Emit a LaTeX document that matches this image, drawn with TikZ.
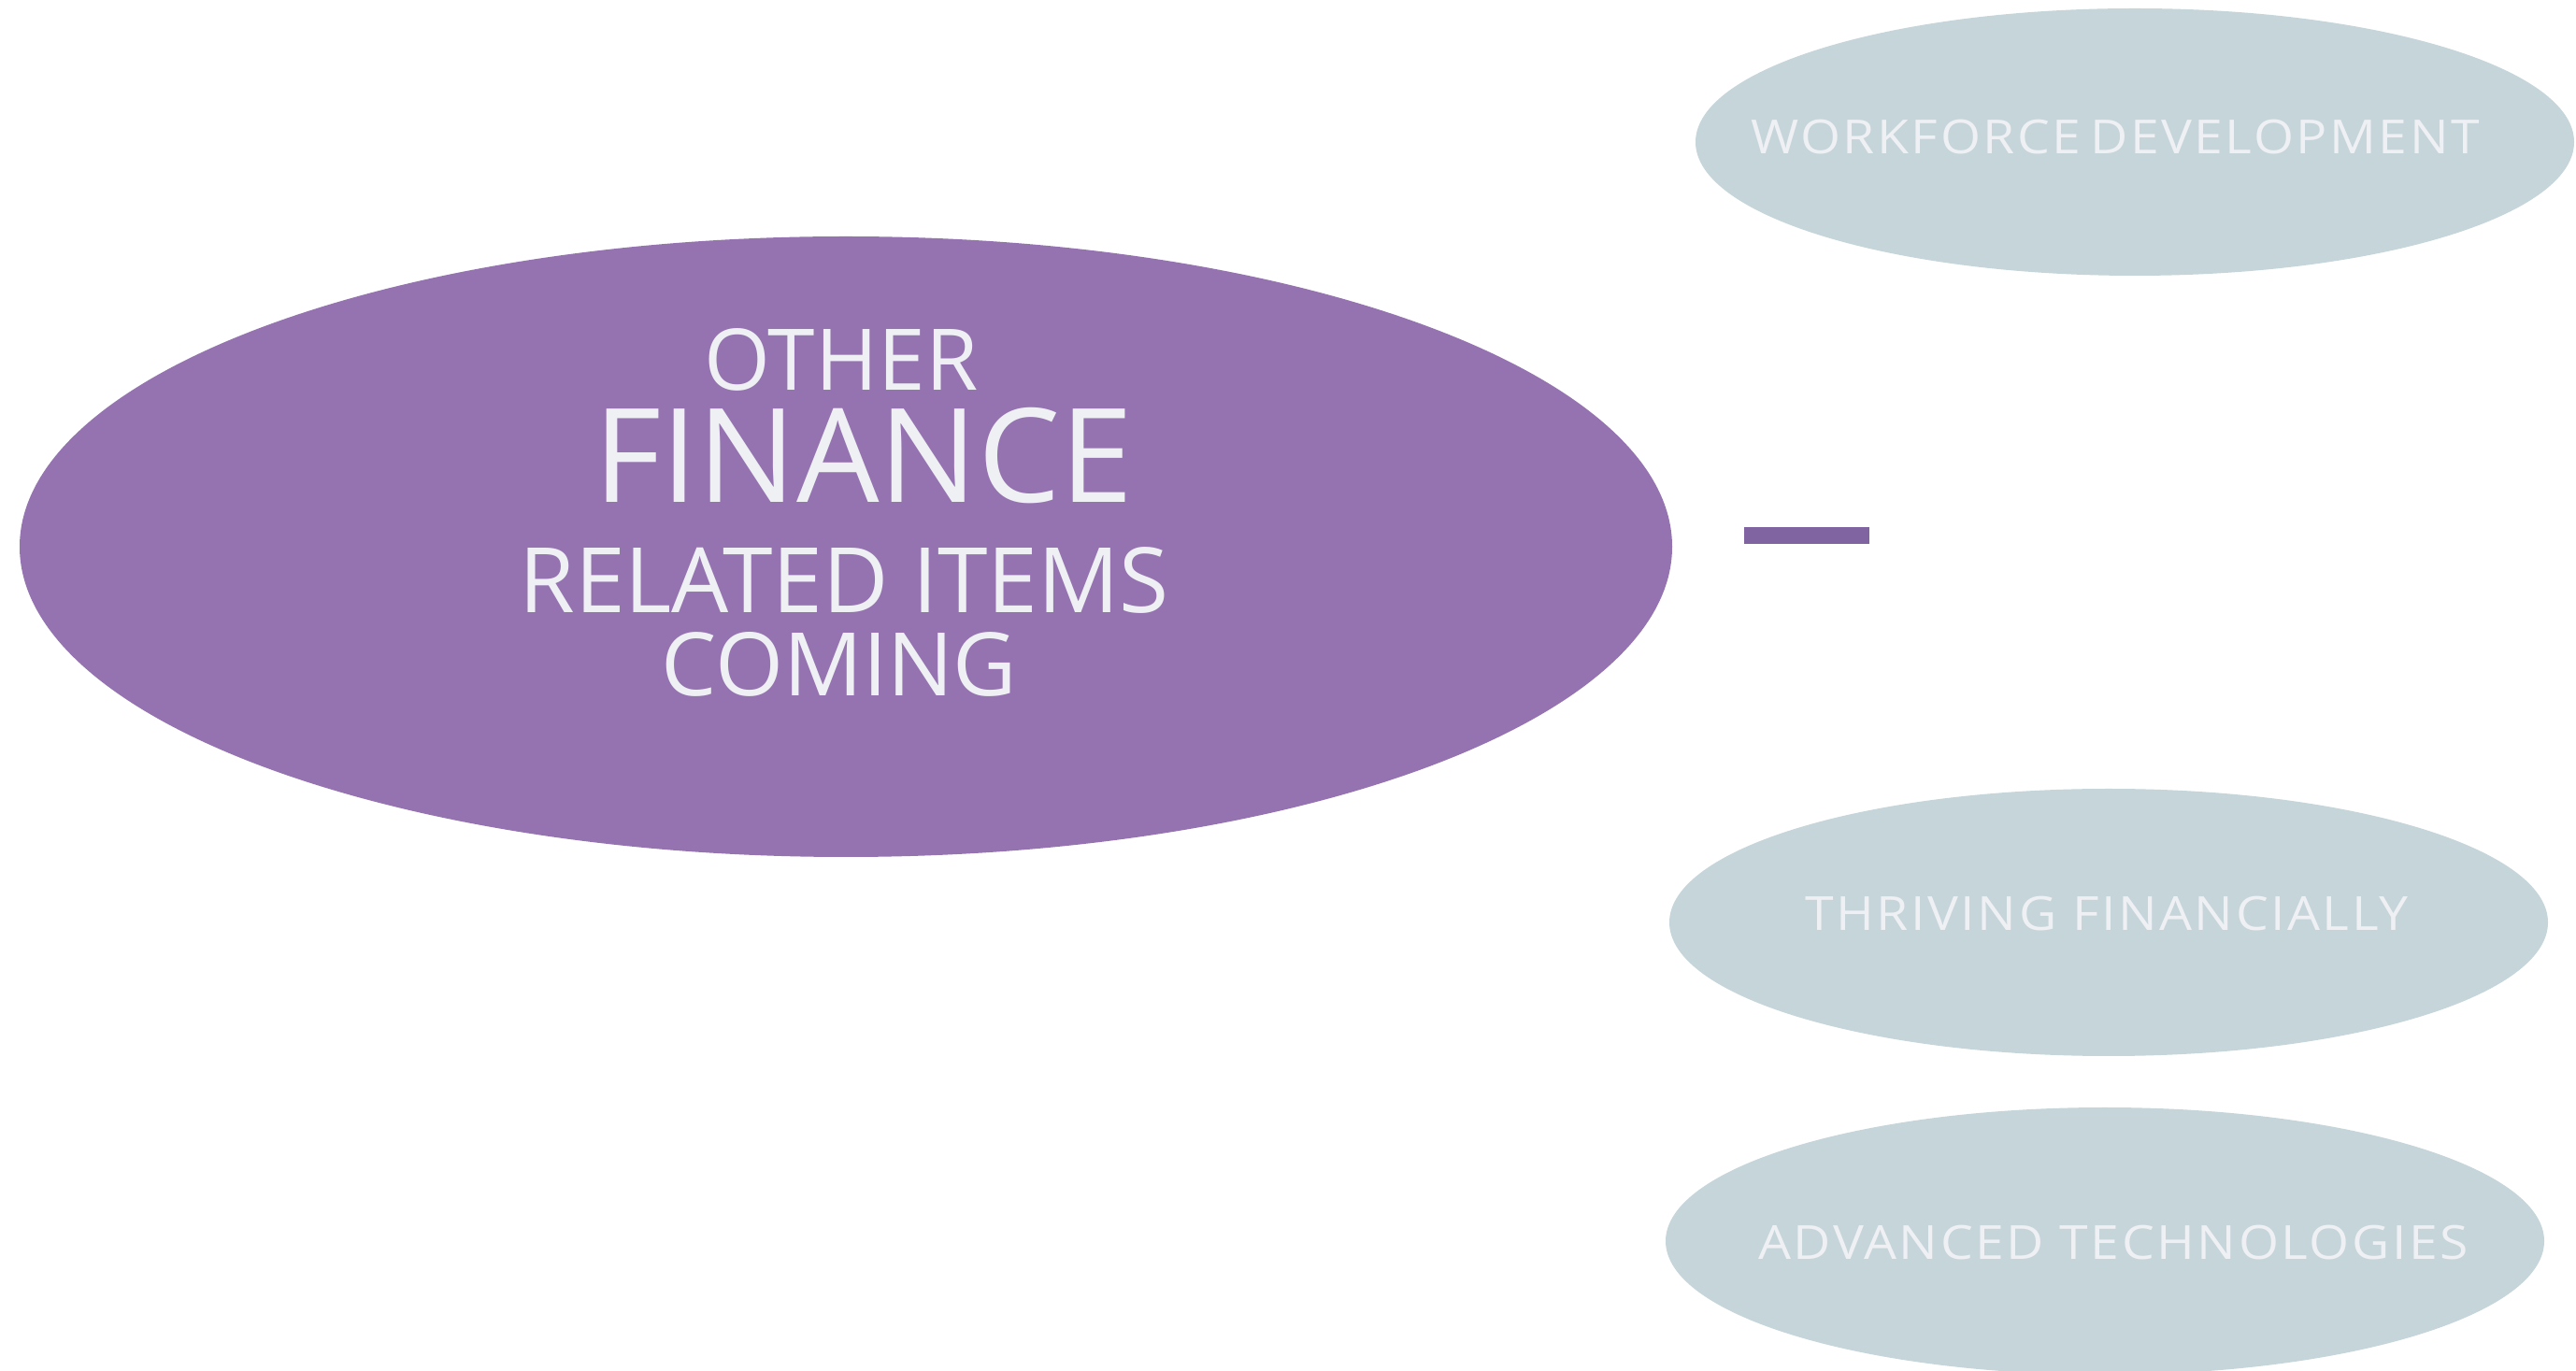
\documentclass[tikz,border=0pt]{standalone}
\usepackage{fontspec}
\setmainfont{Open Sans}
\newfontfamily\spacedfont[LetterSpace=5,FakeStretch=1.1]{Open Sans}
\usepackage{xcolor}
\usepackage{tikz}
\usetikzlibrary{shapes.geometric,positioning}

\definecolor{hubpurple}{HTML}{9572B0}
\definecolor{barpurple}{HTML}{8064A2}
\definecolor{leafgrey}{HTML}{C5D5DA}
\definecolor{paletext}{HTML}{EEF0F4}

\begin{document}
\begin{tikzpicture}[
    hub/.style={ellipse,fill=hubpurple,minimum width=17.68cm,minimum height=6.64cm,inner sep=0pt},
    hubtext/.style={text=paletext,anchor=base,inner sep=0pt,text depth=0pt},
    leaf/.style={ellipse,fill=leafgrey,minimum width=9.4cm,minimum height=2.86cm,inner sep=0pt},
    leaftext/.style={text=paletext,inner sep=0pt,text height=0.36cm,text depth=0pt,
        font=\spacedfont\fontsize{14.3}{17}\selectfont},
    linkbar/.style={rectangle,fill=barpurple,minimum width=1.34cm,minimum height=0.18cm,inner sep=0pt}]
\useasboundingbox (0,0) rectangle (27.56,14.66);

% big oval on the left
\node[hub] (hub) at (9.05,8.81) {};
\node[hubtext,text height=0.65cm,font=\fontsize{25.9}{30}\selectfont] (other) at ([xshift=-0.05cm,yshift=1.67cm]hub.center) {OTHER};
\node[hubtext,text height=1.0cm,font=\fontsize{39.8}{46}\selectfont] (finance) at ([xshift=0.19cm,yshift=0.47cm]hub.center) {FINANCE};
\node[hubtext,text height=0.69cm,font=\fontsize{27.5}{32}\selectfont] (related) at ([xshift=-0.02cm,yshift=-0.71cm]hub.center) {RELATED ITEMS};
\node[hubtext,text height=0.67cm,font=\fontsize{26.7}{31}\selectfont] (coming) at ([xshift=-0.07cm,yshift=-1.60cm]hub.center) {COMING};

% short bar between the two groups
\node[linkbar] (bar) at (19.33,8.93) {};

% ovals on the right
\node[leaf] (work) at (22.84,13.14) {};
\node[leaf] (thrive) at (22.56,4.79) {};
\node[leaf] (tech) at (22.52,1.38) {};
\node[leaftext] (worklabel) at (22.63,13.19) {WORKFORCE\hspace{-0.14em} DEVELOPMENT};
\node[leaftext] (thrivelabel) at (22.54,4.88) {THRIVING FINANCIALLY};
\node[leaftext] (techlabel) at (22.61,1.36) {ADVANCED TECHNOLOGIES};
\end{tikzpicture}
\end{document}
